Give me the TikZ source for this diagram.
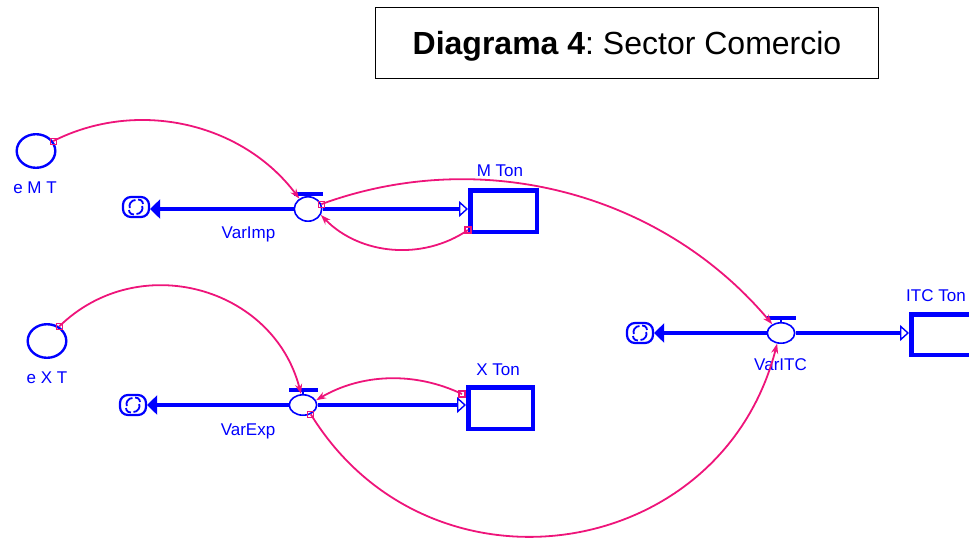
\documentclass[tikz,border=0pt]{standalone}
\usepackage{fontspec}
\setmainfont{Liberation Sans}
\frenchspacing
\usetikzlibrary{arrows.meta,shapes.geometric}
\definecolor{flowblue}{RGB}{0,0,255}
\definecolor{linkpink}{RGB}{238,20,122}
\tikzset{
  lbl/.style={text=flowblue, font=\fontsize{17}{20}\selectfont, inner sep=0pt, anchor=base},
  const/.style={ellipse, draw=flowblue, line width=2.4pt, inner sep=0pt,
    minimum width=38.6pt, minimum height=33.6pt},
  valve/.style={ellipse, draw=flowblue, line width=1.6pt, inner sep=0pt,
    minimum width=27.4pt, minimum height=20.4pt},
  stock/.style={rectangle, draw=flowblue, line width=4.5pt, inner sep=0pt},
  sink/.style={rectangle, rounded corners=8pt, draw=flowblue, line width=2.2pt,
    minimum width=26pt, minimum height=20pt, inner sep=0pt,
    path picture={
      \draw[flowblue, line width=1.8pt, sharp corners]
        ([shift={(-0.5pt,7pt)}]path picture bounding box.center)
          arc[start angle=90, end angle=200, radius=6pt]
        ([shift={(0.5pt,-7pt)}]path picture bounding box.center)
          arc[start angle=270, end angle=380, radius=6pt]
        ([shift={(7pt,3pt)}]path picture bounding box.center)
          arc[start angle=0, end angle=95, radius=4.5pt]
        ([shift={(-7pt,-3pt)}]path picture bounding box.center)
          arc[start angle=180, end angle=275, radius=4.5pt];
    }},
  pipe/.style={draw=flowblue, line width=4.5pt},
  outflow/.style={pipe, -{Triangle[length=10pt,width=19pt]}},
  inflow/.style={pipe, -{Triangle[open,length=9pt,width=16pt,line width=1.4pt]}},
  tap/.style={rectangle, draw=linkpink, line width=1.2pt, minimum size=6pt, inner sep=0pt},
  link/.style={draw=linkpink, line width=1.8pt, -{Stealth[length=10pt,width=7pt]}},
}
% Valve handle: a bar above the valve with a short stem
\newcommand\valvebar[1]{%
  \fill[flowblue] ([shift={(-14.5pt,13.5pt)}]#1.center) rectangle ([shift={(15pt,17.5pt)}]#1.center);
  \draw[flowblue, line width=2pt] ([yshift=13.5pt]#1.center) -- (#1.north);
}
\begin{document}
\begin{tikzpicture}[x=1pt, y=1pt]
\useasboundingbox (0,0) rectangle (969,-539);
\clip (0,0) rectangle (969,-539);

% Title
\node[draw=black, line width=1.3pt, minimum width=503pt, minimum height=71pt,
      inner sep=0pt, text height=23pt, text depth=0pt] (title) at (627,-43)
  {\fontsize{32}{38}\selectfont\textbf{Diagrama 4}: Sector Comercio};

% Constants
\node[const] (emt) at (36,-151) {};
\node[lbl] (lemt) at (35,-193) {e M T};
\node[const] (ext) at (47,-341) {};
\node[lbl] (lext) at (47,-383.5) {e X T};

% Imports
\node[sink] (cm) at (136,-207) {};
\node[valve, minimum height=24.4pt] (vm) at (308,-209) {};
\node[stock, minimum width=66.5pt, minimum height=41.5pt] (mton) at (503.5,-211) {};
\node[lbl] (lvm) at (248.5,-238) {VarImp};
\node[lbl] (lmt) at (500,-176.5) {M Ton};
\draw[outflow] (vm.west) -- (vm.west -| cm.east);
\draw[inflow] (vm.east) -- (vm.east -| mton.west);
\valvebar{vm}

% Exports
\node[sink] (cx) at (133,-405) {};
\node[valve] (vx) at (303,-405) {};
\node[stock, minimum width=64.5pt, minimum height=41.5pt] (xton) at (500.5,-408) {};
\node[lbl] (lvx) at (248,-435.5) {VarExp};
\node[lbl] (lxt) at (498,-375) {X Ton};
\draw[outflow] (vx.west) -- (vx.west -| cx.east);
\draw[inflow] (vx.east) -- (vx.east -| xton.west);
\valvebar{vx}

% Trade balance
\node[sink] (ci) at (640,-333) {};
\node[valve] (vi) at (781,-333) {};
\node[stock, minimum width=80pt, minimum height=40.5pt] (itc) at (951.25,-334.5) {};
\node[lbl] (lvi) at (780.5,-370) {VarITC};
\node[lbl, anchor=base west] (lit) at (906,-301.5) {ITC Ton};
\draw[outflow] (vi.west) -- (vi.west -| ci.east);
\draw[inflow] (vi.east) -- (vi.east -| itc.west);
\valvebar{vi}

% Information links
\node[tap] (t1) at (emt.30) {};
\draw[link] (t1.center) to[bend left=40, looseness=0.96] (vm.130);

\node[tap] (t2) at (vm.20) {};
\draw[link] (t2.center) to[bend left=35, looseness=0.94] (vi.135);

\node[tap] (t3) at ([yshift=4pt]mton.south west) {};
\draw[link] (t3.center) to[bend left=40, looseness=0.96] (vm.-25);

\node[tap] (t4) at (ext.50) {};
\draw[link] (t4.center) to[bend left=60, looseness=1.13] (vx.100);

\node[tap] (t5) at ([shift={(-4pt,-9pt)}]xton.north west) {};
\draw[link] (t5.center) to[bend right=28, looseness=0.92] (vx.20);

\node[tap] (t6) at (vx.-50) {};
\draw[link] (t6.center) to[bend right=67, looseness=1.23] (vi.250);
\end{tikzpicture}
\end{document}
